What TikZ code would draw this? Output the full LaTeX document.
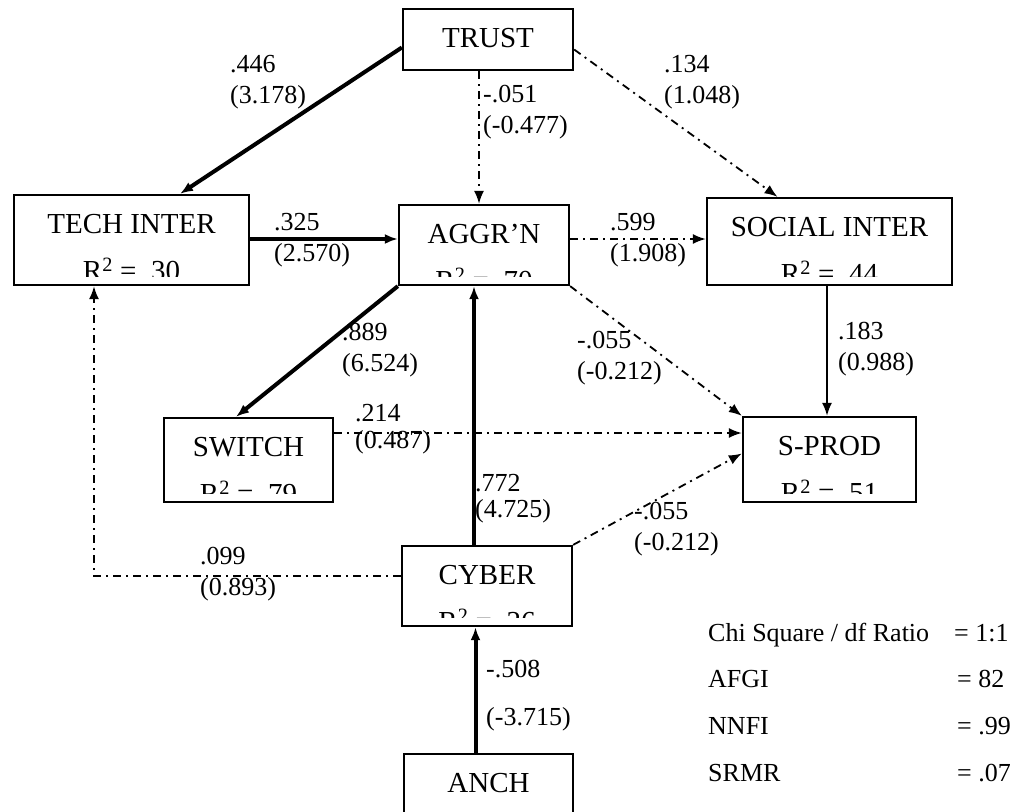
\documentclass[tikz,border=0pt]{standalone}
\usepackage{fontspec}
\setmainfont{Liberation Serif}
\usetikzlibrary{arrows.meta,positioning,calc}

\begin{document}
\begin{tikzpicture}
    [x=1pt,y=-1pt,>={Latex[length=13pt,width=10pt]},
     varbox/.style={draw,line width=2.3pt,inner xsep=0pt,inner ysep=0pt,text height=38pt,font=\fontsize{29}{34}\selectfont},
     rsq/.style={anchor=base,inner sep=0pt,font=\fontsize{29}{34}\selectfont},
     coef/.style={anchor=west,align=left,inner sep=0pt,font=\fontsize{26}{31}\selectfont},
     gof/.style={anchor=base west,inner sep=0pt,font=\fontsize{26}{31}\selectfont},
     strong/.style={line width=4pt},
     plain/.style={line width=1.8pt},
     dd/.style={line width=1.8pt,dash pattern=on 8pt off 5pt on 2pt off 5pt}]

    \useasboundingbox (0,0) rectangle (1011,811);
    \clip (0,0) rectangle (1011,811);

    % constructs
    \node[varbox,minimum width=170pt,text depth=23pt] (trust) at (488,39.5) {TRUST};
    \node[varbox,minimum width=235pt,text depth=52pt] (tech) at (131.5,240) {TECH INTER};
    \node[varbox,minimum width=170pt,text depth=42pt] (aggr) at (484,245) {AGGR'N};
    \node[varbox,minimum width=245pt,text depth=49pt] (social) at (829.5,241.5) {SOCIAL INTER};
    \node[varbox,minimum width=169pt,text depth=46pt] (switch) at (248.5,460) {SWITCH};
    \node[varbox,minimum width=173pt,text depth=47pt] (sprod) at (829.5,459.5) {S-PROD};
    \node[varbox,minimum width=170pt,text depth=42pt] (cyber) at (487,586) {CYBER};
    \node[varbox,minimum width=169pt,text depth=52pt] (anch) at (488.5,799) {ANCH};

    % R^2 lines, cut off by the box
    \foreach \bx/\rv in {tech/.30,aggr/.70,social/.44,switch/.79,sprod/.51,cyber/.26}{
        \begin{scope}
            \clip ([yshift=10pt]\bx.south west) rectangle (\bx.north east);
            \node[rsq] (r\bx) at ([yshift=-87pt]\bx.north) {R\textsuperscript{2} = \rv};
        \end{scope}
    }

    % paths
    \draw[strong,->] ([yshift=-8pt]trust.west) -- ([xshift=48.5pt]tech.north);
    \draw[dd,->] ([xshift=-9pt]trust.south) -- ([xshift=-5pt]aggr.north);
    \draw[dd,->] ([yshift=-10pt]trust.east) -- ([xshift=-52pt]social.north);
    \draw[strong,->] ([yshift=1pt]tech.east) -- ([yshift=6pt]aggr.west);
    \draw[dd,->] ([yshift=6pt]aggr.east) -- ([yshift=2.5pt]social.west);
    \draw[strong,->] (aggr.south west) -- ([xshift=-12.5pt]switch.north);
    \draw[strong,->] ([xshift=-13pt]cyber.north) -- ([xshift=-10pt]aggr.south);
    \draw[dd,->] (aggr.south east) -- (sprod.north west);
    \draw[plain,->] ([xshift=-2.5pt]social.south) -- ([xshift=-2.5pt]sprod.north);
    \draw[dd,->] ([yshift=27pt]switch.east) -- ([yshift=26.5pt]sprod.west);
    \draw[dd,->] (cyber.north east) -- ([yshift=6pt]sprod.west);
    \draw[dd,->] ([yshift=10pt]cyber.west) -| ([xshift=-37.5pt]tech.south);
    \draw[strong,->] ([xshift=-13pt]anch.north) -- ([xshift=-11.5pt]cyber.south);

    % estimates (t-values)
    \node[coef] (c1) at (230,82.5) {.446\\(3.178)};
    \node[coef] (c2) at (483,112) {-.051\\(-0.477)};
    \node[coef] (c3) at (664,82.5) {.134\\(1.048)};
    \node[coef] (c4) at (274,240.5) {.325\\(2.570)};
    \node[coef] (c5) at (610,240.5) {.599\\(1.908)};
    \node[coef] (c6) at (342,350) {.889\\(6.524)};
    \node[coef] (c7) at (577,358) {-.055\\(-0.212)};
    \node[coef] (c8) at (838,349.5) {.183\\(0.988)};
    \node[coef] (c9) at (355,429.5) {.214\\[-4pt](0.487)};
    \node[coef] (c10) at (475,499) {.772\\[-5pt](4.725)};
    \node[coef] (c11) at (634,529.5) {-.055\\(-0.212)};
    \node[coef] (c12) at (200,574.5) {.099\\(0.893)};
    \node[coef] (c13) at (486,696) {-.508\\[17pt](-3.715)};

    % fit
    \node[gof] (chi) at (708,641.6) {Chi Square / df Ratio};
    \node[gof] (chiv) at (954,641.6) {= 1:1};
    \node[gof] (afgi) at (708,687.6) {AFGI};
    \node[gof] (afgiv) at (957,687.6) {= 82};
    \node[gof] (nnfi) at (708,734.6) {NNFI};
    \node[gof] (nnfiv) at (957,734.6) {= .99};
    \node[gof] (srmr) at (708,781.6) {SRMR};
    \node[gof] (srmrv) at (957,781.6) {= .07};

\end{tikzpicture}
\end{document}
